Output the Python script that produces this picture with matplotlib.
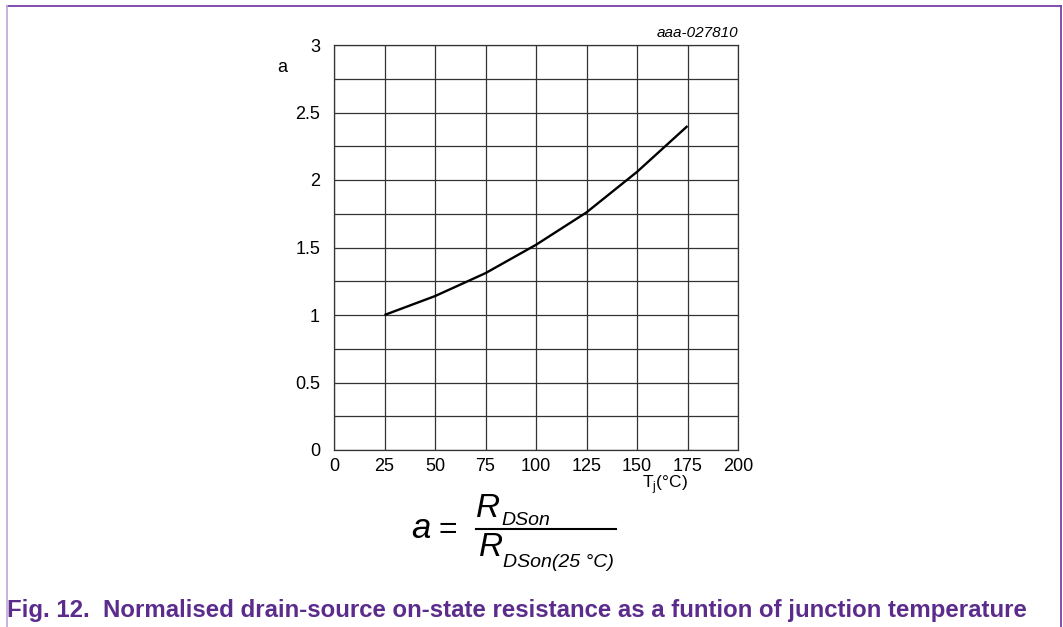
import numpy as np
import matplotlib
matplotlib.use('Agg')
import matplotlib.pyplot as plt
from matplotlib.lines import Line2D

plt.rcParams['font.family'] = ['Liberation Sans', 'DejaVu Sans']

# data
tj = [25, 50, 75, 100, 125, 150, 175]
a_vals = [1.0, 1.14, 1.31, 1.52, 1.76, 2.06, 2.40]
xticks = [0, 25, 50, 75, 100, 125, 150, 175, 200]
yticks = [0, 0.5, 1, 1.5, 2, 2.5, 3]
caption = 'Fig. 12.  Normalised drain-source on-state resistance as a funtion of junction temperature'

W, H = 1063, 627
fig = plt.figure(figsize=(W / 100, H / 100), dpi=100)

ax = fig.add_axes([334 / W, (H - 450) / H, 404 / W, 405 / H])
ax.plot(tj, a_vals, color='black', lw=1.7, solid_capstyle='butt')
ax.set_xlim(0, 200)
ax.set_ylim(0, 3)
ax.set_xticks(xticks)
ax.set_yticks(yticks)
ax.set_xticklabels([str(v) for v in xticks])
ax.set_yticklabels(['0', '0.5', '1', '1.5', '2', '2.5', '3'])
ax.set_xticks(np.arange(0, 201, 25), minor=True)
ax.set_yticks(np.arange(0, 3.01, 0.25), minor=True)
ax.grid(which='minor', color='#333333', lw=0.9)
ax.grid(which='major', color='#333333', lw=0.9)
ax.tick_params(which='both', length=0, labelsize=13, pad=6)
ax.tick_params(axis='y', pad=10)
for s in ax.spines.values():
    s.set_color('#333333')
    s.set_linewidth(0.9)
ax.set_axisbelow(True)

# axis labels
fig.text(282 / W, 1 - 68 / H, 'a', fontsize=13, ha='center', va='center')
fig.text(642 / W, 1 - 485 / H, r'T$_\mathregular{j}$(°C)', fontsize=12.5, ha='left', va='center')
fig.text(738 / W, 1 - 33 / H, 'aaa-027810', fontsize=11, style='italic', ha='right', va='center')

# formula
fig.text(411 / W, 1 - 538 / H, 'a', fontsize=25, style='italic', ha='left', va='baseline')
fig.text(438 / W, 1 - 538 / H, '=', fontsize=23, ha='left', va='baseline')
fig.text(476 / W, 1 - 517 / H, 'R', fontsize=24, style='italic', ha='left', va='baseline')
fig.text(501 / W, 1 - 525 / H, 'DSon', fontsize=14, style='italic', ha='left', va='baseline')
fig.add_artist(Line2D([476 / W, 616 / W], [1 - 529 / H, 1 - 529 / H], color='black', lw=1.5))
fig.text(479 / W, 1 - 556 / H, 'R', fontsize=24, style='italic', ha='left', va='baseline')
fig.text(503 / W, 1 - 567 / H, 'DSon(25 °C)', fontsize=14, style='italic', ha='left', va='baseline')

# caption
fig.text(7 / W, 1 - 611 / H, caption, fontsize=17.3, fontweight='bold', color='#5b2c8c',
         ha='left', va='center')

# frame
fig.add_artist(Line2D([7 / W, 1061 / W], [1 - 6 / H, 1 - 6 / H], color='#7a3fa6', lw=1.3))
fig.add_artist(Line2D([1061 / W, 1061 / W], [0, 1 - 6 / H], color='#7a3fa6', lw=1.3))
fig.add_artist(Line2D([7 / W, 7 / W], [0, 1 - 6 / H], color='#c2acd8', lw=1.3))

fig.savefig('out.png', dpi=100)
